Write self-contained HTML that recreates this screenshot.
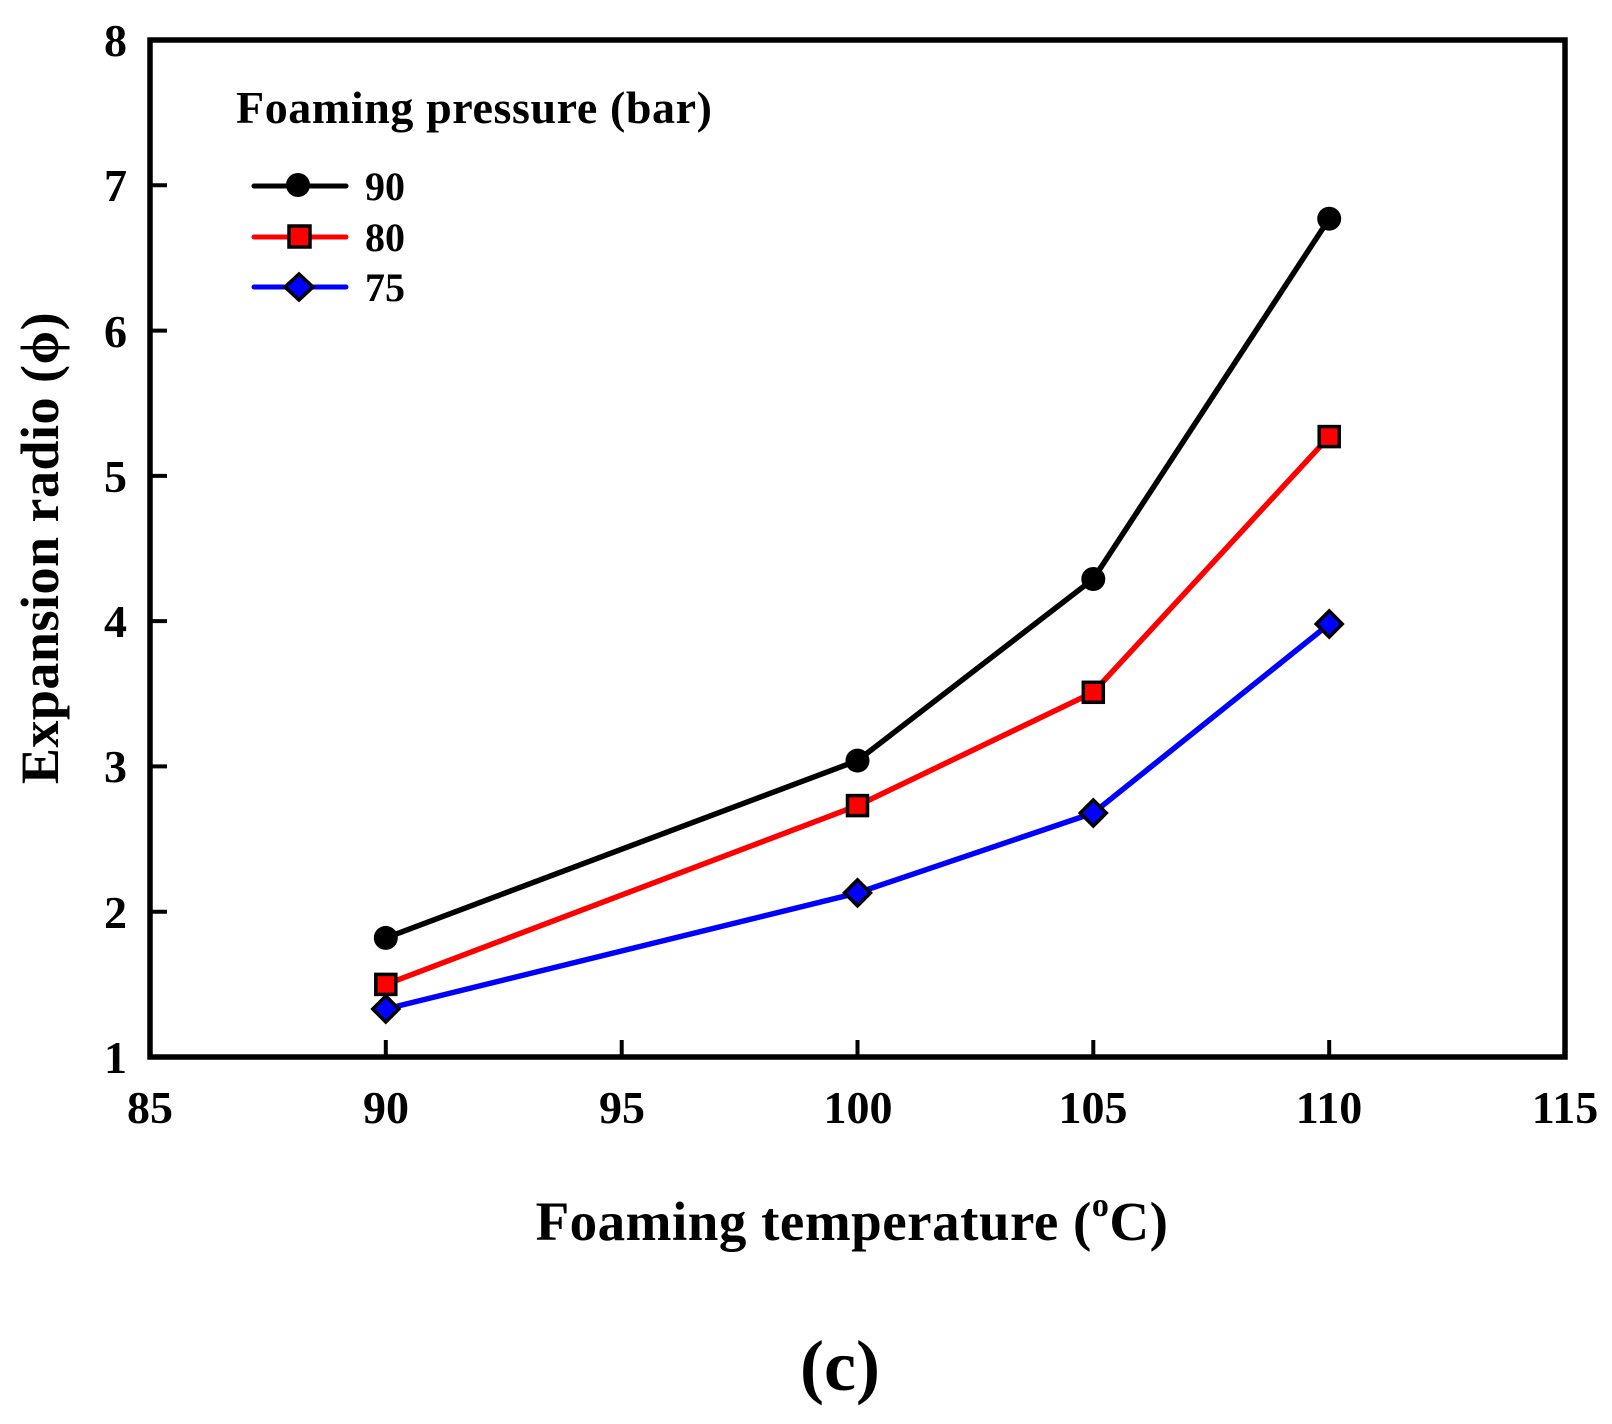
<!DOCTYPE html>
<html><head><meta charset="utf-8"><style>
html,body{margin:0;padding:0;background:#fff;}
svg{display:block;}
text{font-family:"Liberation Serif",serif;font-weight:bold;fill:#000;}
</style></head><body>
<svg width="1612" height="1424" viewBox="0 0 1612 1424" xmlns="http://www.w3.org/2000/svg">
<rect x="0" y="0" width="1612" height="1424" fill="#fff"/>
<g stroke="#000" stroke-width="4">
<line x1="385.8" y1="1057" x2="385.8" y2="1040"/>
<line x1="621.7" y1="1057" x2="621.7" y2="1040"/>
<line x1="857.5" y1="1057" x2="857.5" y2="1040"/>
<line x1="1093.3" y1="1057" x2="1093.3" y2="1040"/>
<line x1="1329.2" y1="1057" x2="1329.2" y2="1040"/>
<line x1="150" y1="911.7" x2="167" y2="911.7"/>
<line x1="150" y1="766.4" x2="167" y2="766.4"/>
<line x1="150" y1="621.1" x2="167" y2="621.1"/>
<line x1="150" y1="475.9" x2="167" y2="475.9"/>
<line x1="150" y1="330.6" x2="167" y2="330.6"/>
<line x1="150" y1="185.3" x2="167" y2="185.3"/>
</g>
<rect x="150" y="40" width="1415" height="1017" fill="none" stroke="#000" stroke-width="5.5"/>
<g font-size="46" text-anchor="end">
<text x="127" y="1073">1</text>
<text x="127" y="928">2</text>
<text x="127" y="782">3</text>
<text x="127" y="637">4</text>
<text x="127" y="492">5</text>
<text x="127" y="347">6</text>
<text x="127" y="201">7</text>
<text x="127" y="56">8</text>
</g>
<g font-size="46" text-anchor="middle">
<text x="150" y="1123">85</text>
<text x="386" y="1123">90</text>
<text x="622" y="1123">95</text>
<text x="858" y="1123">100</text>
<text x="1093" y="1123">105</text>
<text x="1329" y="1123">110</text>
<text x="1565" y="1123">115</text>
</g>
<text x="852" y="1240" font-size="55" text-anchor="middle" letter-spacing="0.5">Foaming temperature (<tspan font-size="34" dy="-24">o</tspan><tspan dy="24">C)</tspan></text>
<text x="840" y="1390" font-size="72" text-anchor="middle">(c)</text>
<text transform="translate(58,548) rotate(-90)" font-size="54" text-anchor="middle" letter-spacing="0.5">Expansion radio (ϕ)</text>
<text x="236" y="123" font-size="46" letter-spacing="0.6">Foaming pressure (bar)</text>
<g stroke-width="5" stroke-linecap="round">
<line x1="254" y1="186" x2="346" y2="186" stroke="#000"/>
<line x1="254" y1="237" x2="346" y2="237" stroke="#f00"/>
<line x1="254" y1="287" x2="346" y2="287" stroke="#00f"/>
</g>
<circle cx="298" cy="185" r="12" fill="#000"/>
<rect x="289" y="226" width="21" height="21" fill="#f00" stroke="#000" stroke-width="3.5"/>
<polygon points="299,274 313,287 299,300 285,287" fill="#00f" stroke="#000" stroke-width="3.5"/>
<g font-size="40">
<text x="365" y="200">90</text>
<text x="365" y="251">80</text>
<text x="365" y="301">75</text>
</g>
<g fill="none" stroke-width="5.5" stroke-linejoin="round">
<polyline stroke="#000" points="385.8,937.9 857.5,760.6 1093.3,579.0 1329.2,218.7"/>
<polyline stroke="#f00" points="385.8,984.4 857.5,805.6 1093.3,692.3 1329.2,436.6"/>
<polyline stroke="#00f" points="385.8,1009.0 857.5,892.9 1093.3,813.0 1329.2,624.0"/>
</g>
<g fill="#000">
<circle cx="385.8" cy="937.9" r="12"/>
<circle cx="857.5" cy="760.6" r="12"/>
<circle cx="1093.3" cy="579.0" r="12"/>
<circle cx="1329.2" cy="218.7" r="12"/>
</g>
<g fill="#f00" stroke="#000" stroke-width="3.5">
<rect x="375.8" y="974.4" width="20" height="20"/>
<rect x="847.5" y="795.6" width="20" height="20"/>
<rect x="1083.3" y="682.3" width="20" height="20"/>
<rect x="1319.2" y="426.6" width="20" height="20"/>
</g>
<g fill="#00f" stroke="#000" stroke-width="3.5">
<polygon points="385.8,996 398.8,1009 385.8,1022 372.8,1009"/>
<polygon points="857.5,879.9 870.5,892.9 857.5,905.9 844.5,892.9"/>
<polygon points="1093.3,800 1106.3,813 1093.3,826 1080.3,813"/>
<polygon points="1329.2,611 1342.2,624 1329.2,637 1316.2,624"/>
</g>
</svg>
</body></html>
